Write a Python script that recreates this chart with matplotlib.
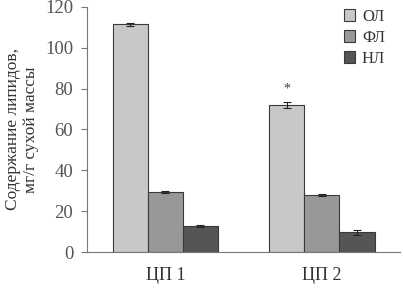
import numpy as np
import matplotlib.pyplot as plt

plt.rcParams['font.family'] = ['Liberation Serif', 'DejaVu Serif']

# Данные
groups = ['ЦП 1', 'ЦП 2']
series = ['ОЛ', 'ФЛ', 'НЛ']
values = {'ОЛ': [111.5, 72.0], 'ФЛ': [29.4, 28.0], 'НЛ': [12.6, 9.6]}
errors = {'ОЛ': [0.6, 1.3], 'ФЛ': [0.5, 0.4], 'НЛ': [0.4, 1.3]}
colors = {'ОЛ': '#c8c8c8', 'ФЛ': '#989898', 'НЛ': '#555555'}

fig = plt.figure(figsize=(4.03, 2.91), dpi=100)
ax = fig.add_axes([0.216, 0.134, 0.777, 0.842])

x = np.arange(len(groups))
w = 0.224
for i, s in enumerate(series):
    ax.bar(x + (i - 1) * w, values[s], width=w, color=colors[s],
           edgecolor='#3a3a3a', linewidth=0.8, label=s,
           yerr=errors[s], error_kw=dict(ecolor='#222222', elinewidth=0.8,
                                         capsize=3, capthick=0.8))

# звездочка над ОЛ ЦП 2
ax.text(x[1] - w, values['ОЛ'][1] + errors['ОЛ'][1] + 6.5, '*',
        ha='center', va='center', fontsize=10, color='#444444')

ax.set_xlim(-0.5, 1.5)
ax.set_ylim(0, 120)
ax.set_yticks(range(0, 121, 20))
ax.set_xticks(x)
ax.set_xticklabels(groups, fontsize=13)
ax.tick_params(axis='x', length=0, pad=11, colors='#333333')
ax.tick_params(axis='y', labelsize=13.5, length=4, width=0.8,
               colors='#777777', labelcolor='#555555', pad=6)
for side in ['top', 'right']:
    ax.spines[side].set_visible(False)
for side in ['left', 'bottom']:
    ax.spines[side].set_color('#777777')
    ax.spines[side].set_linewidth(0.8)

ax.set_ylabel('Содержание липидов,\nмг/г сухой массы', fontsize=12.5,
              color='#333333', linespacing=1.2, labelpad=4)

ax.legend(loc='upper right', bbox_to_anchor=(1.0, 1.055), frameon=False,
          fontsize=12, handlelength=0.7, handleheight=0.7,
          handletextpad=0.4, labelspacing=0.3, labelcolor='#333333')

plt.savefig('out.png', dpi=100)
